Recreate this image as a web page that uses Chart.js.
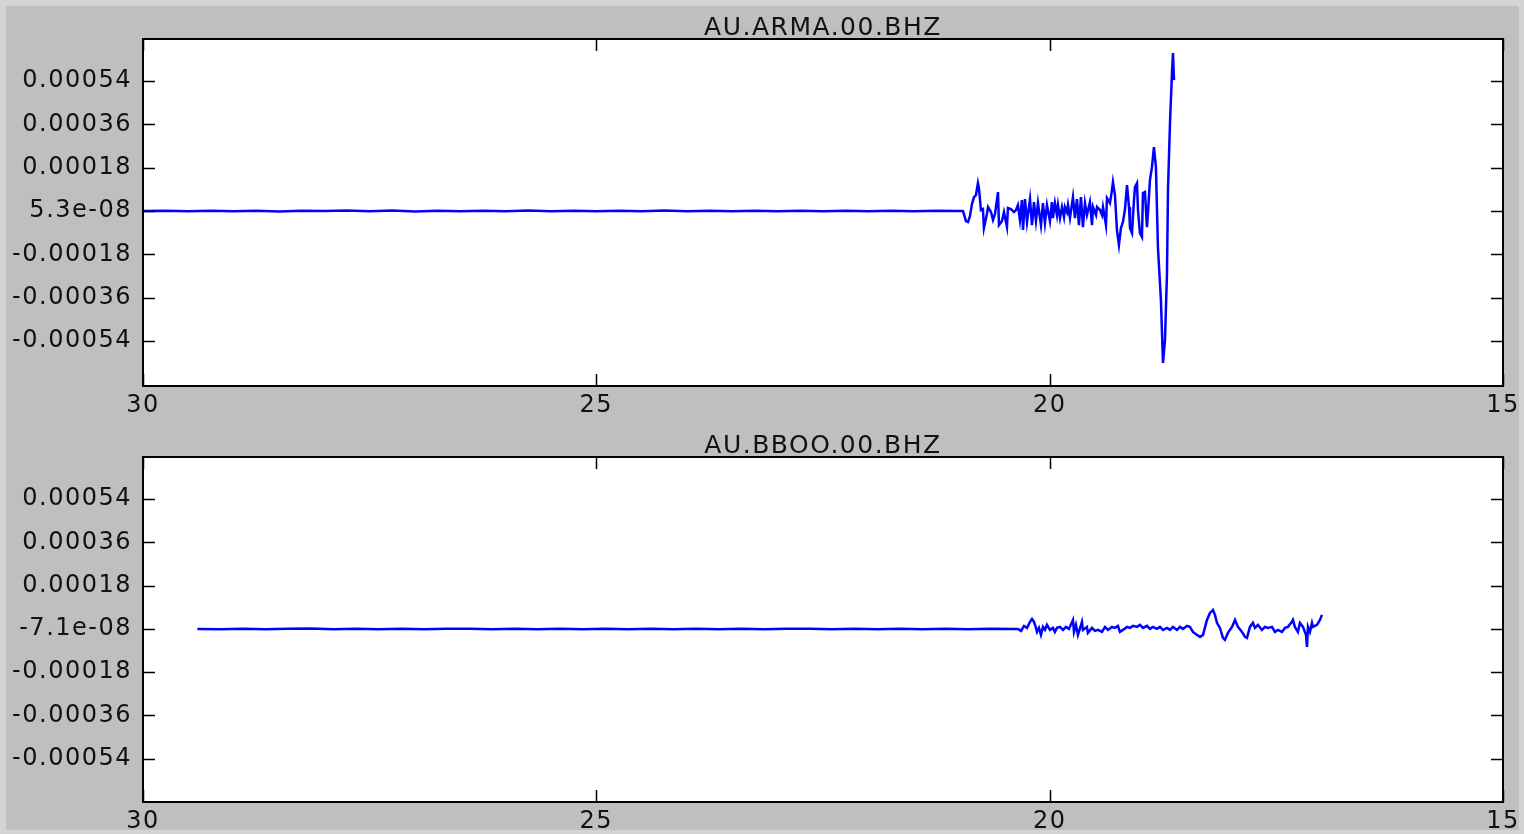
<!DOCTYPE html>
<html>
<head>
<meta charset="utf-8">
<script src="https://cdn.jsdelivr.net/npm/chart.js@4/dist/chart.umd.min.js"></script>
<style>
body{margin:0;background:#d4d4d4}
.wrap{position:relative;width:1524px;height:834px;background:#d4d4d4;overflow:hidden}
.face{position:absolute;left:6px;top:6px;right:5px;bottom:4px;background:#bfbfbf}
.pane{position:absolute;left:0;width:1524px;height:417px}
</style>
</head>
<body>
<div class="wrap">
<div class="face"></div>
<div class="pane" style="top:0"><canvas id="c1" width="1524" height="417"></canvas></div>
<div class="pane" style="top:417px"><canvas id="c2" width="1524" height="417"></canvas></div>
</div>

<script>
// station titles
var title1 = 'AU.ARMA.00.BHZ';
var title2 = 'AU.BBOO.00.BHZ';

// x ticks (seconds, axis runs 30 -> 15)
var xTicks = [30, 25, 20, 15];

// y ticks per trace
var yTicks1 = [0.00054, 0.00036, 0.00018, 5.3e-08, -0.00018, -0.00036, -0.00054];
var yTickLabels1 = ['0.00054', '0.00036', '0.00018', '5.3e-08', '-0.00018', '-0.00036', '-0.00054'];
var yTicks2 = [0.00054, 0.00036, 0.00018, -7.1e-08, -0.00018, -0.00036, -0.00054];
var yTickLabels2 = ['0.00054', '0.00036', '0.00018', '-7.1e-08', '-0.00018', '-0.00036', '-0.00054'];

// trace 1 : AU.ARMA
var time1 = [
  30.00, 29.75, 29.50, 29.25, 29.00, 28.75, 28.50, 28.25, 28.00, 27.75, 27.50, 27.25, 27.00,
  26.75, 26.50, 26.25, 26.00, 25.75, 25.50, 25.25, 25.00, 24.75, 24.50, 24.25, 24.00, 23.75,
  23.50, 23.25, 23.00, 22.75, 22.50, 22.25, 22.00, 21.75, 21.50, 21.25, 21.00,
  20.956, 20.923, 20.901, 20.879, 20.857, 20.835, 20.813, 20.791, 20.780, 20.758, 20.736, 20.725,
  20.692, 20.680, 20.647, 20.625, 20.603, 20.570, 20.559, 20.526, 20.504, 20.471, 20.460, 20.427,
  20.394, 20.372, 20.350, 20.328, 20.306, 20.294, 20.272, 20.250, 20.217, 20.195, 20.173, 20.151,
  20.129, 20.096, 20.074, 20.052, 20.030, 19.997, 19.975, 19.964, 19.942, 19.920, 19.908, 19.886,
  19.864, 19.842, 19.831, 19.809, 19.798, 19.776, 19.743, 19.721, 19.699, 19.677, 19.655, 19.633,
  19.611, 19.589, 19.556, 19.533, 19.522, 19.489, 19.478, 19.445, 19.423, 19.412, 19.379, 19.368,
  19.335, 19.313, 19.302, 19.280, 19.258, 19.236, 19.214, 19.192, 19.170, 19.147, 19.125, 19.114,
  19.092, 19.070, 19.059, 19.037, 19.026, 19.004, 18.982, 18.971, 18.949, 18.927, 18.916, 18.894,
  18.872, 18.850, 18.828, 18.806, 18.773, 18.750, 18.728, 18.706, 18.695, 18.673, 18.651, 18.640,
  18.629
];
var amp1 = [
  0, 1e-6, -1e-6, 1e-6, -1e-6, 1e-6, -2e-6, 1e-6, 0, 2e-6, -1e-6, 2e-6, -2e-6,
  1e-6, -1e-6, 1e-6, -1e-6, 2e-6, -1e-6, 1e-6, -1e-6, 1e-6, -1e-6, 2e-6, -1e-6, 1e-6,
  -1e-6, 1e-6, -1e-6, 1e-6, -1e-6, 1e-6, -1e-6, 1e-6, -1e-6, 1e-6, 0,
  0, -41.5e-6, -45.7e-6, -20.8e-6, 29.1e-6, 58.2e-6, 66.5e-6, 116.3e-6, 95.5e-6, 4.2e-6, 8.3e-6, -70.6e-6,
  -12.5e-6, 16.6e-6, -4.2e-6, -37.4e-6, -12.5e-6, 78.9e-6, -58.2e-6, -41.5e-6, -4.2e-6, -66.5e-6, 12.5e-6, 8.3e-6,
  -4.2e-6, 4.2e-6, 24.9e-6, -37.4e-6, 45.7e-6, -78.9e-6, 49.8e-6, -45.7e-6, 49.8e-6, -58.2e-6, 37.4e-6, -41.5e-6,
  33.2e-6, -58.2e-6, 33.2e-6, -49.8e-6, 24.9e-6, -41.5e-6, 37.4e-6, -29.1e-6, 33.2e-6, -16.6e-6, 24.9e-6, -29.1e-6,
  16.6e-6, -24.9e-6, 16.6e-6, -4.2e-6, 24.9e-6, -29.1e-6, 58.2e-6, -29.1e-6, 49.8e-6, -58.2e-6, 58.2e-6, -66.5e-6,
  33.2e-6, -16.6e-6, 37.4e-6, -58.2e-6, 16.6e-6, -16.6e-6, 16.6e-6, 4.2e-6, -16.6e-6, 16.6e-6, -58.2e-6, 54.0e-6,
  33.2e-6, 87.2e-6, 120.5e-6, 66.5e-6, -78.9e-6, -141.2e-6, -70.6e-6, -45.7e-6, 4.2e-6, 108.0e-6, 16.6e-6, -70.6e-6,
  -91.4e-6, 45.7e-6, 99.7e-6, 116.3e-6, 4.2e-6, -91.4e-6, -108.0e-6, 74.8e-6, 78.9e-6, -66.5e-6, -8.3e-6, 128.8e-6,
  182.8e-6, 265.9e-6, 182.8e-6, -149.5e-6, -369.7e-6, -631.4e-6, -535.9e-6, -257.5e-6, 87.2e-6, 365.6e-6, 573.3e-6, 656.3e-6,
  544.2e-6
];

// trace 2 : AU.BBOO
var time2 = [
  29.40, 29.15, 28.90, 28.65, 28.40, 28.15, 27.90, 27.65, 27.40, 27.15, 26.90, 26.65, 26.40,
  26.15, 25.90, 25.65, 25.40, 25.15, 24.90, 24.65, 24.40, 24.15, 23.90, 23.65, 23.40, 23.15,
  22.90, 22.65, 22.40, 22.15, 21.90, 21.65, 21.40, 21.15, 20.90, 20.65, 20.40,
  20.350, 20.316, 20.283, 20.250, 20.217, 20.195, 20.173, 20.151, 20.140, 20.118, 20.096, 20.074,
  20.052, 20.030, 19.997, 19.964, 19.942, 19.920, 19.886, 19.853, 19.820, 19.787, 19.743, 19.732,
  19.710, 19.688, 19.644, 19.633, 19.589, 19.578, 19.533, 19.500, 19.467, 19.423, 19.390, 19.357,
  19.313, 19.280, 19.247, 19.225, 19.192, 19.147, 19.114, 19.081, 19.037, 19.004, 18.971, 18.927,
  18.894, 18.861, 18.817, 18.784, 18.750, 18.706, 18.673, 18.640, 18.596, 18.563, 18.530, 18.486,
  18.453, 18.420, 18.375, 18.342, 18.309, 18.265, 18.232, 18.199, 18.177, 18.155, 18.122, 18.089,
  18.067, 18.034, 17.989, 17.956, 17.923, 17.879, 17.846, 17.824, 17.791, 17.758, 17.736, 17.703,
  17.659, 17.625, 17.592, 17.548, 17.515, 17.482, 17.438, 17.405, 17.372, 17.328, 17.317, 17.295,
  17.262, 17.240, 17.206, 17.173, 17.162, 17.151, 17.129, 17.107, 17.096, 17.052, 17.019, 16.997
];
var amp2 = [
  0, -1e-6, 1e-6, -1e-6, 1e-6, 2e-6, -1e-6, 1e-6, -1e-6, 1e-6, -1e-6, 1e-6, 1e-6,
  -1e-6, 1e-6, -1e-6, 1e-6, -1e-6, 1e-6, -1e-6, 1e-6, -1e-6, 1e-6, -1e-6, 1e-6, -1e-6,
  1e-6, 1e-6, -1e-6, 1e-6, -1e-6, 1e-6, -1e-6, 1e-6, -1e-6, 1e-6, 0,
  0, -8.3e-6, 12.5e-6, 4.2e-6, 29.1e-6, 41.6e-6, 29.1e-6, 4.2e-6, -12.5e-6, 4.2e-6, -25.0e-6, 8.3e-6,
  -4.2e-6, 16.6e-6, -4.2e-6, 4.2e-6, -12.5e-6, 4.2e-6, 8.3e-6, -4.2e-6, 8.3e-6, 0, 37.4e-6, -12.5e-6,
  16.6e-6, -25.0e-6, 29.1e-6, -4.2e-6, 8.3e-6, -16.6e-6, 4.2e-6, -8.3e-6, -4.2e-6, -12.5e-6, 8.3e-6, -4.2e-6,
  8.3e-6, 4.2e-6, 12.5e-6, -12.5e-6, -4.2e-6, 8.3e-6, 4.2e-6, 12.5e-6, 8.3e-6, 16.6e-6, 4.2e-6, 12.5e-6,
  0, 8.3e-6, 0, 8.3e-6, -4.2e-6, 4.2e-6, -4.2e-6, 8.3e-6, -4.2e-6, 8.3e-6, 0, 12.5e-6,
  8.3e-6, -12.5e-6, -25.0e-6, -33.3e-6, -25.0e-6, 37.4e-6, 66.6e-6, 79.0e-6, 58.2e-6, 25.0e-6, 4.2e-6, -37.4e-6,
  -45.8e-6, -16.6e-6, 8.3e-6, 37.4e-6, 8.3e-6, -12.5e-6, -33.3e-6, -37.4e-6, 8.3e-6, 25.0e-6, 4.2e-6, 16.6e-6,
  -4.2e-6, 8.3e-6, 4.2e-6, 8.3e-6, -12.5e-6, -4.2e-6, -12.5e-6, 4.2e-6, 8.3e-6, 29.1e-6, 37.4e-6, 8.3e-6,
  -12.5e-6, 25.0e-6, 8.3e-6, -25.0e-6, -74.9e-6, 8.3e-6, -12.5e-6, 25.0e-6, 8.3e-6, 16.6e-6, 37.4e-6, 58.2e-6
];

var FONT = 'DejaVu Sans';

// white plot face, black frame, inward ticks on all 4 sides, title above
var mplLook = {
  id: 'mplLook',
  beforeDraw: function(chart) {
    var a = chart.chartArea, ctx = chart.ctx;
    ctx.save();
    ctx.fillStyle = '#ffffff';
    ctx.fillRect(a.left, a.top, a.right - a.left, a.bottom - a.top);
    ctx.restore();
    // the reference glyphs are a touch wider than DejaVu at this size
    ctx.letterSpacing = '1.5px';
  },
  afterDraw: function(chart) {
    var a = chart.chartArea, ctx = chart.ctx;
    var xs = chart.scales.x, ys = chart.scales.y;
    ctx.save();
    ctx.strokeStyle = '#000';
    ctx.lineWidth = 1.5;
    ctx.beginPath();
    xs.ticks.forEach(function(t) {
      var p = Math.round(xs.getPixelForValue(t.value)) + 0.5;
      ctx.moveTo(p, a.bottom); ctx.lineTo(p, a.bottom - 12);
      ctx.moveTo(p, a.top); ctx.lineTo(p, a.top + 12);
    });
    ys.ticks.forEach(function(t) {
      var p = Math.round(ys.getPixelForValue(t.value)) + 0.5;
      ctx.moveTo(a.left, p); ctx.lineTo(a.left + 12, p);
      ctx.moveTo(a.right, p); ctx.lineTo(a.right - 12, p);
    });
    ctx.stroke();
    ctx.lineWidth = 2;
    ctx.strokeRect(a.left, a.top, a.right - a.left, a.bottom - a.top);
    ctx.fillStyle = '#111';
    ctx.font = '25px "' + FONT + '"';
    ctx.textAlign = 'center';
    ctx.textBaseline = 'alphabetic';
    ctx.fillText(chart.options.plugins.mplLook.title, (a.left + a.right) / 2, a.top - 4);
    ctx.restore();
  }
};

function makeTrace(id, title, time, amp, yTicks, yLabels, yMin, yMax, topPad, areaH) {
  var pts = time.map(function(t, i) { return { x: t, y: amp[i] }; });
  return new Chart(document.getElementById(id), {
    type: 'line',
    data: { datasets: [{ data: pts, borderColor: '#0000ff', borderWidth: 2.5, pointRadius: 0, tension: 0, fill: false }] },
    options: {
      responsive: false,
      animation: false,
      devicePixelRatio: 1,
      layout: { padding: { top: topPad, right: 21, left: 0, bottom: 0 } },
      plugins: { legend: { display: false }, tooltip: { enabled: false }, mplLook: { title: title } },
      scales: {
        x: {
          type: 'linear', reverse: true, min: 15, max: 30,
          afterBuildTicks: function(s) { s.ticks = xTicks.map(function(v) { return { value: v }; }); },
          afterFit: function(s) { s.height = 417 - topPad - areaH; },
          grid: { display: false, drawTicks: false },
          border: { display: false },
          ticks: { padding: 5, color: '#111', font: { family: FONT, size: 24 }, maxRotation: 0,
            callback: function(v) { return String(v); } }
        },
        y: {
          min: yMin, max: yMax,
          afterBuildTicks: function(s) { s.ticks = yTicks.map(function(v) { return { value: v }; }); },
          afterFit: function(s) { s.width = 143; },
          grid: { display: false, drawTicks: false },
          border: { display: false },
          ticks: { padding: 11, color: '#111', font: { family: FONT, size: 24 },
            callback: function(v, i) { return yLabels[i]; } }
        }
      }
    },
    plugins: [mplLook]
  });
}

makeTrace('c1', title1, time1, amp1, yTicks1, yTickLabels1, -0.000727, 0.000715, 39, 347);
makeTrace('c2', title2, time2, amp2, yTicks2, yTickLabels2, -0.00072, 0.000715, 40, 345);
</script>
</body>
</html>
